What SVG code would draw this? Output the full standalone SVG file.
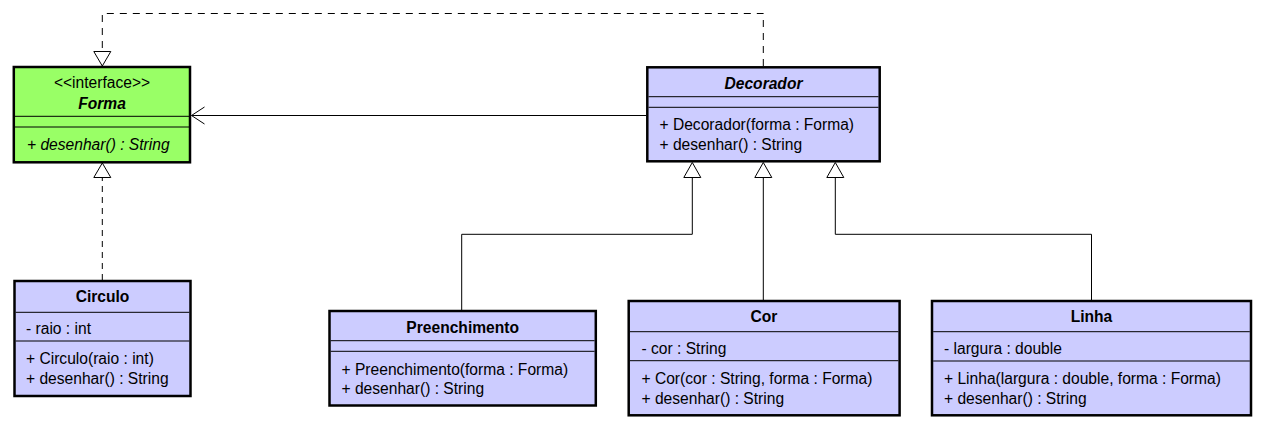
<svg xmlns="http://www.w3.org/2000/svg" width="1264" height="429" viewBox="0 0 1264 429">
<style>
  .box { fill: #CCCCFF; stroke: #000; stroke-width: 2.5; }
  .iface { fill: #99FF66; stroke: #000; stroke-width: 2.5; }
  .sep { stroke: #000; stroke-width: 1; }
  text { font-family: "Liberation Sans", Arial, sans-serif; font-size: 15.6px; fill: #000; }
  .title { font-weight: bold; font-size: 15.6px; text-anchor: middle; }
  .center { text-anchor: middle; }
  .ital { font-style: italic; }
  .edge { fill: none; stroke: #000; stroke-width: 1; }
  .dash1 { stroke-dasharray: 7 6; }
  .dash2 { stroke-dasharray: 6 5; }
  .tri { fill: #fff; stroke: #000; stroke-width: 1; }
</style>
<rect width="1264" height="429" fill="#fff"/>

<g id="connectors">
  <!-- Decorador realizes Forma -->
  <path class="edge dash1" d="M763.3,66 V13.5 H102.3 V51.5"/>
  <polygon class="tri" points="102.3,66 93.8,51.5 110.8,51.5"/>
  <!-- Circulo realizes Forma -->
  <path class="edge dash2" d="M102.3,280 V177.5"/>
  <polygon class="tri" points="102.3,163 93.8,177.5 110.8,177.5"/>
  <!-- Decorador association to Forma -->
  <path class="edge" d="M646,115.5 H191.5"/>
  <polyline class="edge" points="204.5,107 191.5,115.5 204.5,124"/>
  <!-- Preenchimento extends Decorador -->
  <path class="edge" d="M461.7,310 V234.3 H692.3 V177.5"/>
  <polygon class="tri" points="692.3,162.5 683.8,177.5 700.8,177.5"/>
  <!-- Cor extends Decorador -->
  <path class="edge" d="M763.3,300 V177.5"/>
  <polygon class="tri" points="763.3,162.5 754.8,177.5 771.8,177.5"/>
  <!-- Linha extends Decorador -->
  <path class="edge" d="M1091.5,300 V234.3 H835.3 V177.5"/>
  <polygon class="tri" points="835.3,162.5 826.8,177.5 843.8,177.5"/>
</g>

<g id="Forma">
  <rect class="iface" x="13.8" y="67" width="176.2" height="95.3"/>
  <line class="sep" x1="15" y1="116.3" x2="189" y2="116.3"/>
  <line class="sep" x1="15" y1="127" x2="189" y2="127"/>
  <text class="center" x="102" y="88">&lt;&lt;interface&gt;&gt;</text>
  <text class="title ital" x="102" y="108.5">Forma</text>
  <text class="ital" x="27" y="149.5">+ desenhar() : String</text>
</g>

<g id="Decorador">
  <rect class="box" x="647.3" y="67.3" width="232.4" height="94"/>
  <line class="sep" x1="648.5" y1="96.7" x2="878.5" y2="96.7"/>
  <line class="sep" x1="648.5" y1="107.3" x2="878.5" y2="107.3"/>
  <text class="title ital" x="763.5" y="88.5">Decorador</text>
  <text x="659.5" y="129.5">+ Decorador(forma : Forma)</text>
  <text x="659.5" y="149.5">+ desenhar() : String</text>
</g>

<g id="Circulo">
  <rect class="box" x="14.5" y="281" width="176" height="115"/>
  <line class="sep" x1="15.7" y1="312.3" x2="189.3" y2="312.3"/>
  <line class="sep" x1="15.7" y1="341" x2="189.3" y2="341"/>
  <text class="title" x="102.5" y="301.8">Circulo</text>
  <text x="26" y="333.5">- raio : int</text>
  <text x="26" y="364">+ Circulo(raio : int)</text>
  <text x="26" y="384">+ desenhar() : String</text>
</g>

<g id="Preenchimento">
  <rect class="box" x="329.5" y="311" width="266.3" height="94.5"/>
  <line class="sep" x1="330.7" y1="340.7" x2="594.6" y2="340.7"/>
  <line class="sep" x1="330.7" y1="351.3" x2="594.6" y2="351.3"/>
  <text class="title" x="462.7" y="332.5">Preenchimento</text>
  <text x="341.5" y="374.5">+ Preenchimento(forma : Forma)</text>
  <text x="341.5" y="394">+ desenhar() : String</text>
</g>

<g id="Cor">
  <rect class="box" x="628.7" y="301" width="270.9" height="114.3"/>
  <line class="sep" x1="629.9" y1="331.7" x2="898.4" y2="331.7"/>
  <line class="sep" x1="629.9" y1="360.7" x2="898.4" y2="360.7"/>
  <text class="title" x="764" y="321.5">Cor</text>
  <text x="641.5" y="353.5">- cor : String</text>
  <text x="641.5" y="384">+ Cor(cor : String, forma : Forma)</text>
  <text x="641.5" y="404">+ desenhar() : String</text>
</g>

<g id="Linha">
  <rect class="box" x="932" y="301" width="319" height="114.3"/>
  <line class="sep" x1="933.2" y1="331.7" x2="1249.8" y2="331.7"/>
  <line class="sep" x1="933.2" y1="361" x2="1249.8" y2="361"/>
  <text class="title" x="1091.5" y="321.5">Linha</text>
  <text x="944" y="353.5">- largura : double</text>
  <text x="944" y="384">+ Linha(largura : double, forma : Forma)</text>
  <text x="944" y="404">+ desenhar() : String</text>
</g>
</svg>
